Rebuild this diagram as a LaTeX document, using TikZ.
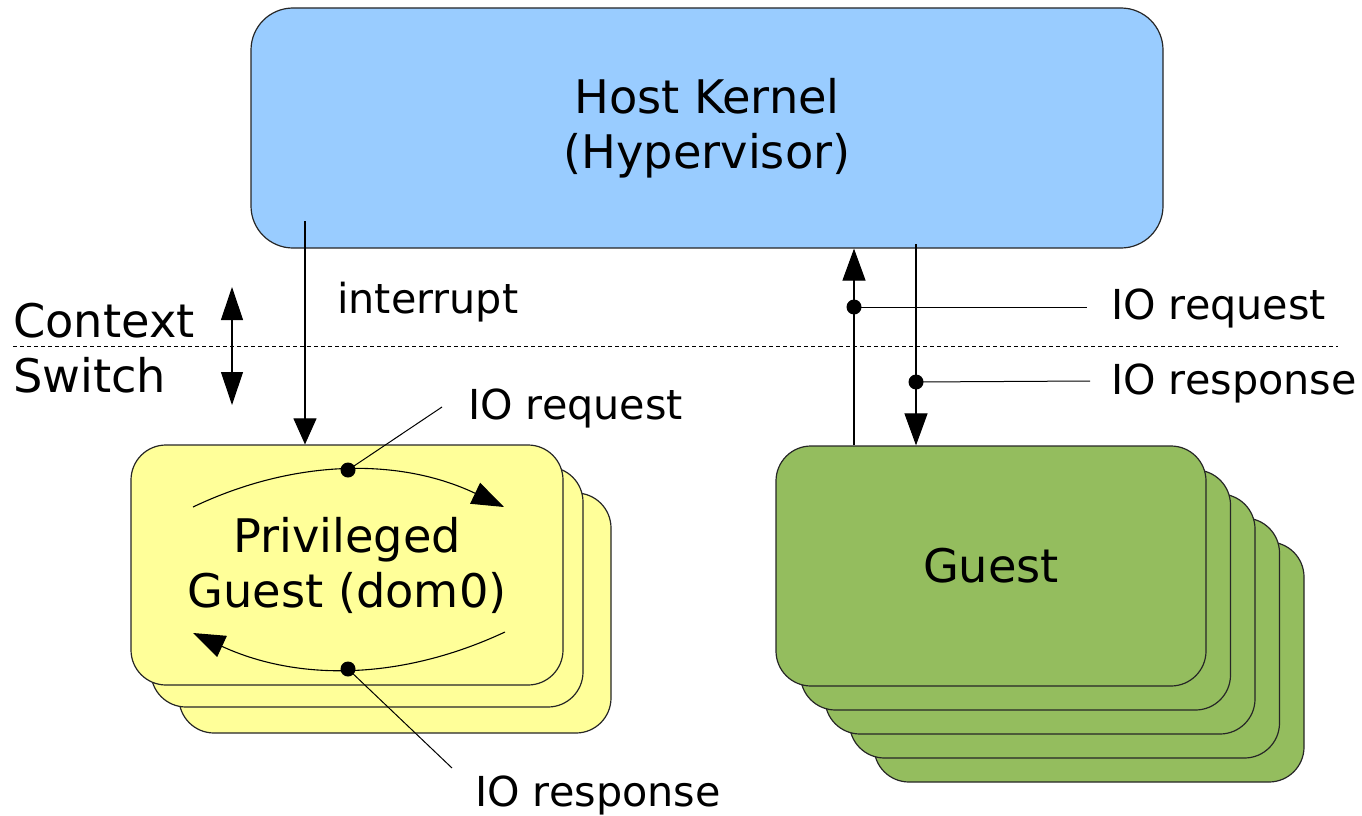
\documentclass[tikz,border=0pt]{standalone}
\usepackage{fontspec}
\setmainfont{DejaVu Sans}
\usetikzlibrary{arrows.meta}
\definecolor{hostblue}{HTML}{99CCFF}
\definecolor{guestyellow}{HTML}{FFFF99}
\definecolor{guestgreen}{HTML}{94BD5E}
\begin{document}
\begin{tikzpicture}[x=1pt,y=-1pt,
  box/.style={draw=black!85, line width=1.2pt, rounded corners=35pt, minimum width=432pt, minimum height=240pt, inner sep=0pt, align=center, font=\fontsize{46.3}{55}\selectfont},
  hostbox/.style={box, fill=hostblue, minimum width=912pt, rounded corners=42pt},
  ybox/.style={box, fill=guestyellow},
  gbox/.style={box, fill=guestgreen, minimum width=430pt},
  lbl/.style={anchor=base west, inner sep=0pt, font=\fontsize{41.3}{48}\selectfont},
  big/.style={anchor=base west, inner sep=0pt, font=\fontsize{46.3}{55}\selectfont},
  conn/.style={line width=1.1pt, black},
  arr/.style={conn, -{Triangle[length=32pt,width=23pt]}},
  leader/.style={line width=1pt, black},
  sepline/.style={line width=0.9pt, dash pattern=on 4pt off 3pt}
]
\useasboundingbox (0,0) rectangle (1362,816);

% host kernel
\node[hostbox] (host) at (707,128) {Host Kernel\\(Hypervisor)};

% privileged guest stack
\node[ybox] (y3) at (395,613) {};
\node[ybox] (y2) at (367,587) {};
\node[ybox] (y1) at (347,565) {Privileged\\Guest (dom0)};

% guest stack
\node[gbox] (g5) at (1089,662) {};
\node[gbox] (g4) at (1064.5,638) {};
\node[gbox] (g3) at (1040,614) {};
\node[gbox] (g2) at (1015.5,590) {};
\node[gbox] (g1) at (991,566) {Guest};

% context switch separator
\coordinate (dl1) at (13,346);
\coordinate (dl2) at (1338,346);
\draw[sepline] (dl1) -- (dl2);

% context switch double arrow
\coordinate (cs1) at (232,287);
\coordinate (cs2) at (232,405);
\draw[conn, {Triangle[length=33pt,width=22pt]}-{Triangle[length=33pt,width=22pt]}] (cs1) -- (cs2);

% interrupt
\coordinate (intstart) at (305,221);
\draw[conn, -{Triangle[length=26pt,width=23pt]}] (intstart) -- (intstart |- y1.north);

% guest <-> host
\coordinate (upx) at (854,300);
\draw[arr] (upx |- g1.north) -- (upx |- host.south);
\coordinate (downtop) at (916,244);
\draw[arr] (downtop) -- (downtop |- g1.north);

% dom0 arcs
\coordinate (a1s) at (193,507);
\coordinate (a1e) at (504,507);
\draw[arr] (a1s) .. controls (296,458) and (401,458) .. (a1e);
\coordinate (a2s) at (505,632);
\coordinate (a2e) at (193,633);
\draw[arr] (a2s) .. controls (400,681) and (297,681) .. (a2e);

% dots
\coordinate (dreqL) at (348,470);
\coordinate (dresL) at (348,669);
\coordinate (dreqR) at (854,307);
\coordinate (dresR) at (916,382);
\foreach \d in {dreqL,dresL,dreqR,dresR} \fill (\d) circle[radius=7.5pt];

% leaders
\coordinate (lqL) at (442,407);
\coordinate (lrL) at (452,768);
\coordinate (lqR) at (1087,307);
\coordinate (lrR) at (1090,381);
\draw[leader] (dreqL) -- (lqL);
\draw[leader] (dresL) -- (lrL);
\draw[leader] (dreqR) -- (lqR);
\draw[leader] (dresR) -- (lrR);

% labels
\node[big] (ctx) at (13,337) {Context};
\node[big] (sw) at (13,392) {Switch};
\node[lbl] (intl) at (337,313) {interrupt};
\node[lbl] (reqL) at (468,419) {IO request};
\node[lbl] (resL) at (475,806) {IO response};
\node[lbl] (reqR) at (1111,319) {IO request};
\node[lbl] (resR) at (1111,394) {IO response};
\end{tikzpicture}
\end{document}
